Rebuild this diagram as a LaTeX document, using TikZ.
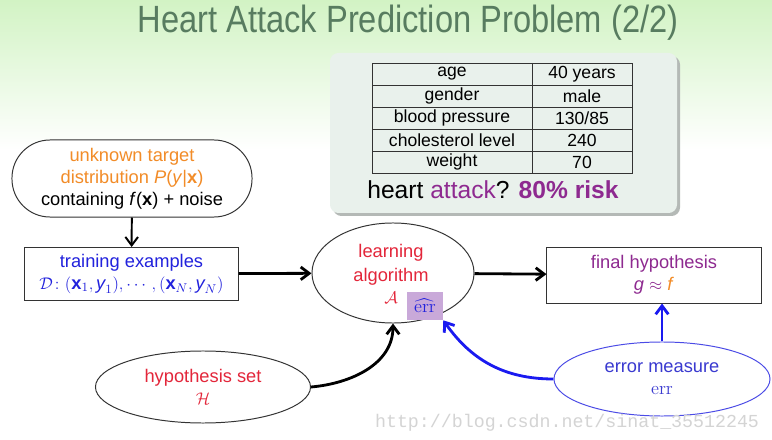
\documentclass[tikz,border=0pt]{standalone}
\usepackage{amsmath,amssymb}
\usepackage{graphicx}
\usepackage{fontspec}
\setmainfont{Liberation Sans}
\newfontfamily\lmroman{Latin Modern Roman}
\newfontfamily\wmfont{Liberation Mono}
\usepackage{tikz}
\usetikzlibrary{arrows.meta,positioning,calc,shapes.geometric}
\definecolor{bgtop}{HTML}{D2F3C4}
\definecolor{titlecol}{HTML}{587C60}
\definecolor{panel}{HTML}{E9F1EC}
\definecolor{panelshadow}{HTML}{B4B9B6}
\definecolor{boxline}{HTML}{333333}
\definecolor{orng}{HTML}{F28C28}
\definecolor{blu}{HTML}{2222DD}
\definecolor{redd}{HTML}{E3263A}
\definecolor{purp}{HTML}{8E2A90}
\definecolor{errbg}{HTML}{C9A9D9}
\definecolor{ovalblue}{HTML}{4B4BE6}
\definecolor{blu2}{HTML}{3A3AD0}
\definecolor{arrowblue}{HTML}{1A1AF0}
\definecolor{wmgray}{HTML}{D4D4D4}

\begin{document}
\begin{tikzpicture}[x=0.025cm,y=-0.025cm,>={Straight Barb[length=6pt,width=9pt]},
  font=\fontsize{13}{15.5}\selectfont,
  plainbox/.style={draw=boxline,line width=0.7pt,fill=white,align=center,inner sep=2pt},
  oval/.style={ellipse,draw=boxline,line width=0.7pt,fill=white,align=center,inner sep=0pt},
  flow/.style={->,line width=2pt},
  cell/.style={font=\fontsize{12.5}{14}\selectfont,inner sep=0pt}]
% background
\shade[top color=bgtop,bottom color=white] (0,0) rectangle (772,150);
\fill[white] (0,150) rectangle (772,440);
\useasboundingbox (0,0) rectangle (772,440);
% title
\node[text=titlecol,font=\fontsize{27}{30}\selectfont] (title) at (408,23) {\scalebox{0.86}[1]{Heart Attack Prediction Problem (2/2)}};
% patient panel
\fill[panelshadow,rounded corners=6] (333,56) rectangle (680,216);
\fill[panel,rounded corners=6] (330,53) rectangle (677,213);
\draw[boxline,line width=0.6pt] (372,63) rectangle (632,173);
\draw[boxline,line width=0.6pt] (532,63) -- (532,173);
\foreach \y in {85,107,129,151} \draw[boxline,line width=0.6pt] (372,\y) -- (632,\y);
\foreach \feat/\val [count=\i] in {age/40 years,gender/male,{blood pressure}/{130/85},{cholesterol level}/240,weight/70}{
  \node[cell] (feat\i) at (452,52+22*\i) {\feat};
  \node[cell] (val\i) at (582,52+22*\i) {\val};
}
\node[font=\fontsize{17.5}{20}\selectfont] (verdict) at (493,190) {heart \textcolor{purp}{attack}? \textcolor{purp}{\textbf{80\% risk}}};
% learning flow
\node[plainbox,rounded corners=0.95cm,minimum width=6cm,minimum height=1.925cm] (target) at (132,178.5) {\textcolor{orng}{unknown target}\\ \textcolor{orng}{distribution \textit{P}(\textit{y}|\textbf{x})}\\ containing \textit{f}(\textbf{x}) + noise};
\node[plainbox,minimum width=5.325cm,minimum height=1.325cm,text=blu] (train) at (131.5,274) {training examples\\ $\mathcal{D}\colon (\textbf{x}_1,\textit{y}_1),\cdots,(\textbf{x}_N,\textit{y}_N)$};
\node[oval,minimum width=4.05cm,minimum height=2.5cm] (learn) at (393,273) {};
\node[text=redd,align=center,inner sep=0pt,font=\fontsize{13}{17}\selectfont] (learnlbl) at (391,265) {learning\\ algorithm};
\node[text=redd,inner sep=0pt] (alg) at (391,298) {$\mathcal{A}$};
\node[fill=errbg,minimum width=0.9cm,minimum height=0.7cm,inner sep=0pt,text=blu] (errhat) at (425,306) {$\widehat{\text{\lmroman err}}$};
\node[plainbox,minimum width=5.35cm,minimum height=1.4cm,text=purp] (final) at (654,275) {final hypothesis\\ \textit{g} $\approx$ \textcolor{orng}{\textit{f}}};
\node[oval,minimum width=5.375cm,minimum height=1.8cm,text=redd] (hyp) at (203,387) {hypothesis set\\ $\mathcal{H}$};
\node[oval,draw=ovalblue,minimum width=5.4cm,minimum height=1.85cm,text=blu2] (measure) at (662,379) {error measure\\ {\lmroman err}};
% arrows
\draw[->,line width=1.4pt] (target) -- (train);
\draw[flow] (train) -- (learn);
\draw[flow] (learn) -- (final);
\draw[flow] (hyp.east) to[out=5,in=-90] (learn.south);
\draw[flow,arrowblue] (measure.west) to[out=180,in=-55] (errhat.south east);
\draw[flow,arrowblue] (measure.north) -- (measure.north |- final.south);
% watermark
\node[text=wmgray,font=\wmfont\fontsize{13}{14}\selectfont,anchor=east] (mark) at (764,423) {http://blog.csdn.net/sinat\_35512245};
\end{tikzpicture}
\end{document}
